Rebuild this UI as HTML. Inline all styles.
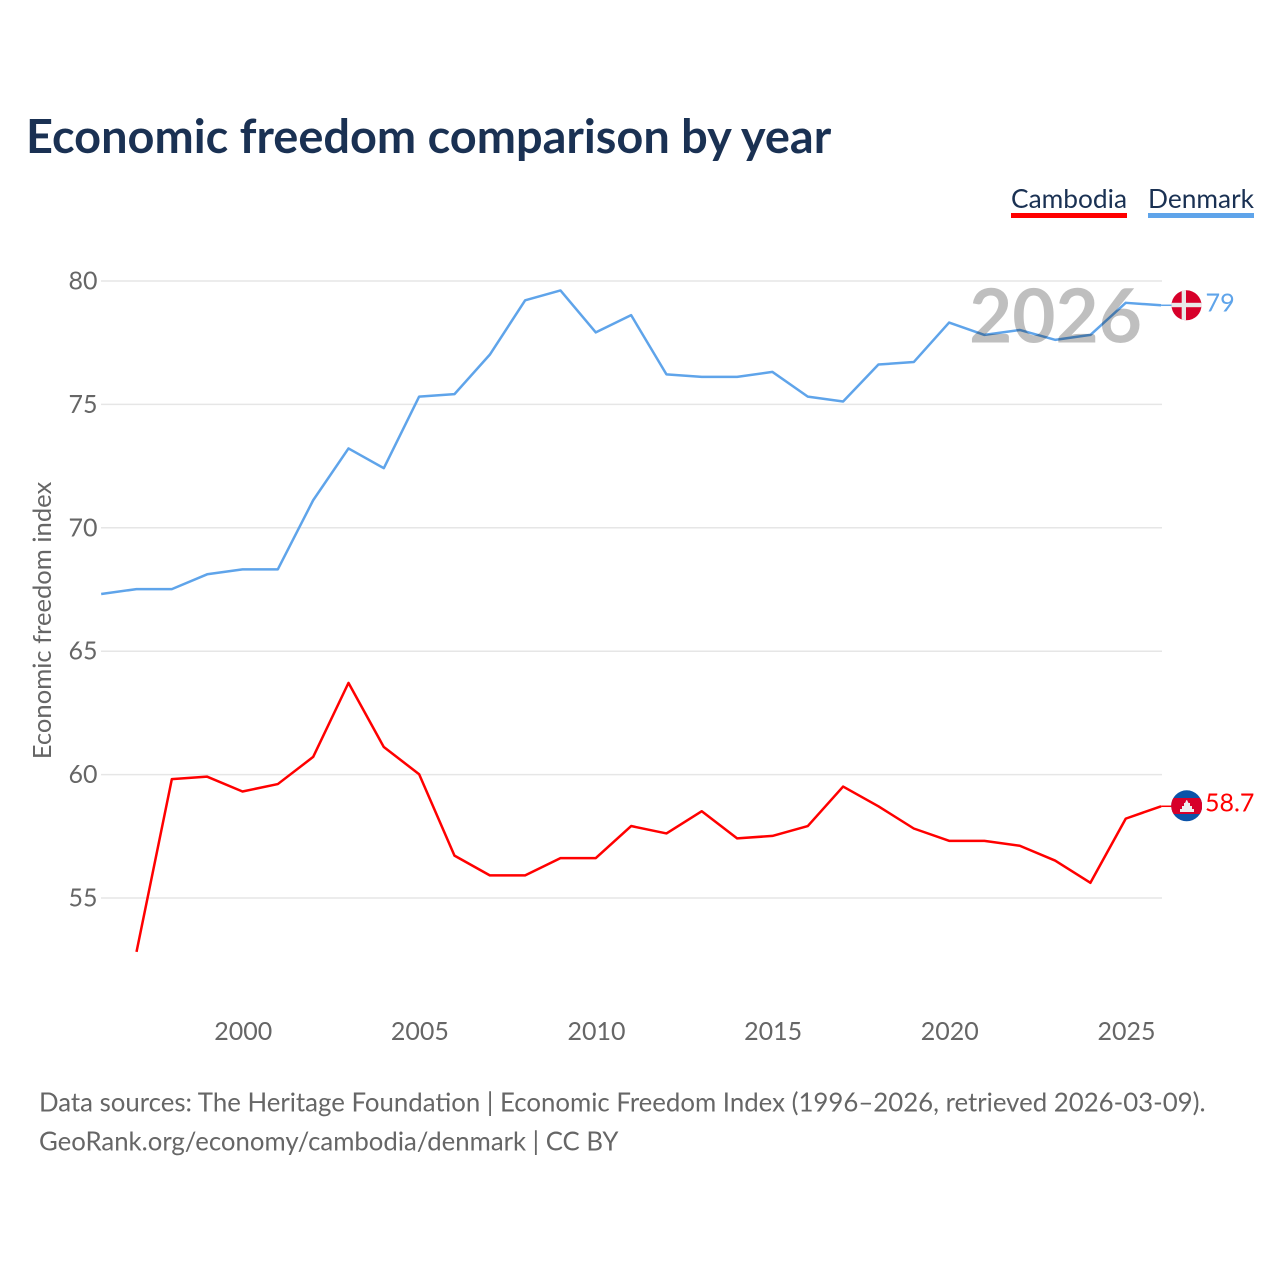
<!DOCTYPE html>
<html lang="en">
<head>
<meta charset="utf-8">
<title>Economic freedom comparison by year</title>
<style>
html,body{margin:0;padding:0;background:#fff;}
svg{display:block;}
text{font-family:"Lato","Carlito","Liberation Sans",sans-serif;}
</style>
</head>
<body>
<svg id="chart" xmlns="http://www.w3.org/2000/svg" width="1280" height="1280" viewBox="0 0 1280 1280">
  <rect x="0" y="0" width="1280" height="1280" fill="#ffffff"/>
  <text x="26" y="153" font-size="46.9" font-weight="700" fill="#1a3153">Economic freedom comparison by year</text>
  <g id="grid"></g>
  <g id="yticks"></g>
  <g id="xticks"></g>
  <text transform="translate(51,620.500) rotate(-90)" text-anchor="middle" font-size="25.600" fill="#666666">Economic freedom index</text>
  <g id="series"></g>
  <text x="1055.500" y="342.500" text-anchor="middle" font-size="74.500" font-weight="700" fill="#000000" fill-opacity="0.25">2026</text>

  <g>
    <text x="1011" y="208" font-size="26.300" fill="#1a3153">Cambodia</text>
    <rect x="1011" y="213" width="116" height="5" fill="#ff0000"/>
  </g>
  <g>
    <text x="1148" y="208" font-size="26.300" fill="#1a3153">Denmark</text>
    <rect x="1148" y="213" width="106" height="5" fill="#5fa4ea"/>
  </g>

  <defs>
    <clipPath id="flag-dk-clip"><circle cx="1186.500" cy="305.300" r="15"/></clipPath>
    <clipPath id="flag-kh-clip"><circle cx="1186.700" cy="805.800" r="15.500"/></clipPath>
  </defs>
  <g clip-path="url(#flag-dk-clip)">
    <rect x="1171" y="290" width="31" height="31" fill="#d7002a"/>
    <rect x="1181.700" y="290" width="4.300" height="31" fill="#e8e8e8"/>
    <rect x="1171" y="302.800" width="31" height="4.400" fill="#e8e8e8"/>
  </g>
  <text id="label-dk" x="1205.500" y="311.500" font-size="25.200" fill="#5fa4ea">79</text>

  <g clip-path="url(#flag-kh-clip)">
    <rect x="1171" y="790" width="31" height="32" fill="#0b53a8"/>
    <rect x="1171" y="798" width="31" height="16" fill="#d7002a"/>
    <path d="M1180 812 L1194 812 L1194 809 L1192 809 L1192 806 L1190 806 L1190 803 L1188.500 803 L1187 800 L1186.500 800 L1185 803 L1184 803 L1184 806 L1182 806 L1182 809 L1180 809 Z" fill="#eeeeee"/>
  </g>
  <text id="label-kh" x="1205" y="811.500" font-size="25" fill="#ff0000">58.7</text>

  <text x="39" y="1111.500" font-size="25.800" fill="#666666">Data sources: The Heritage Foundation | Economic Freedom Index (1996–2026, retrieved 2026-03-09).</text>
  <text x="39" y="1150.500" font-size="25.750" fill="#666666">GeoRank.org/economy/cambodia/denmark | CC BY</text>
</svg>
<script>
const years = [1996,1997,1998,1999,2000,2001,2002,2003,2004,2005,2006,2007,2008,2009,2010,2011,2012,2013,2014,2015,2016,2017,2018,2019,2020,2021,2022,2023,2024,2025,2026];
const denmarkValues = [67.3,67.5,67.5,68.1,68.3,68.3,71.1,73.2,72.4,75.3,75.4,77.0,79.2,79.6,77.9,78.6,76.2,76.1,76.1,76.3,75.3,75.1,76.6,76.7,78.3,77.8,78.0,77.6,77.8,79.1,79.0];
const cambodiaValues = [null,52.8,59.8,59.9,59.3,59.6,60.7,63.7,61.1,60.0,56.7,55.9,55.9,56.6,56.6,57.9,57.6,58.5,57.4,57.5,57.9,59.5,58.7,57.8,57.3,57.3,57.1,56.5,55.6,58.2,58.7];
const yTicks = [55,60,65,70,75,80];
const xTicks = [2000,2005,2010,2015,2020,2025];

const NS = 'http://www.w3.org/2000/svg';
function xScale(year){ return 242.5 + (year - 2000) * 35.33; }
function yScale(value){ return 281 + (80 - value) * (898 - 281) / 25; }

const gridLayer = document.getElementById('grid');
const yLayer = document.getElementById('yticks');
const xLayer = document.getElementById('xticks');
const seriesLayer = document.getElementById('series');

yTicks.forEach(function(t){
  const line = document.createElementNS(NS,'line');
  
  
  line.setAttribute('x1', 101);
  line.setAttribute('x2', 1162);
  line.setAttribute('y1', yScale(t));
  line.setAttribute('y2', yScale(t));
  line.setAttribute('stroke', '#e6e6e6');
  line.setAttribute('stroke-width', 1.5);
  gridLayer.appendChild(line);
  const label = document.createElementNS(NS,'text');
  
  
  label.setAttribute('x', 97.5);
  label.setAttribute('y', yScale(t) + 8.5);
  label.setAttribute('text-anchor', 'end');
  label.setAttribute('font-size', 25);
  label.setAttribute('fill', '#666666');
  label.textContent = t;
  yLayer.appendChild(label);
});

xTicks.forEach(function(t){
  const label = document.createElementNS(NS,'text');
  
  
  label.setAttribute('x', xScale(t) + 0.7);
  label.setAttribute('y', 1040);
  label.setAttribute('text-anchor', 'middle');
  label.setAttribute('font-size', 25);
  label.setAttribute('fill', '#666666');
  label.textContent = t;
  xLayer.appendChild(label);
});

function drawSeries(values, color, name){
  let d = '';
  let lastX = 0, lastY = 0;
  values.forEach(function(v,i){
    if (v === null) return;
    lastX = xScale(years[i]);
    lastY = yScale(v) - 0.4;
    d += (d ? 'L' : 'M') + lastX.toFixed(2) + ' ' + lastY.toFixed(2);
  });
  const path = document.createElementNS(NS,'path');
  
  
  path.setAttribute('d', d);
  path.setAttribute('fill', 'none');
  path.setAttribute('stroke', color);
  path.setAttribute('stroke-width', 2.5);
  path.setAttribute('stroke-linejoin', 'round');
  seriesLayer.appendChild(path);
  const connector = document.createElementNS(NS,'line');
  
  
  connector.setAttribute('x1', lastX);
  connector.setAttribute('y1', lastY);
  connector.setAttribute('x2', lastX + 12);
  connector.setAttribute('y2', lastY);
  connector.setAttribute('stroke', color);
  connector.setAttribute('stroke-width', 1.5);
  seriesLayer.appendChild(connector);
}
drawSeries(denmarkValues, '#5fa4ea', 'denmark');
drawSeries(cambodiaValues, '#ff0000', 'cambodia');
</script>
</body>
</html>
